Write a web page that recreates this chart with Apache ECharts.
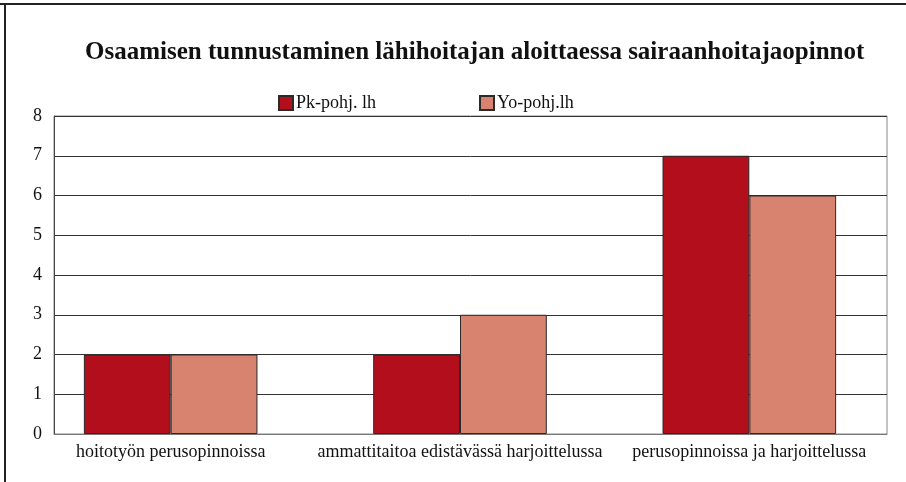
<!DOCTYPE html>
<html><head><meta charset="utf-8">
<script src="https://cdn.jsdelivr.net/npm/echarts@6/dist/echarts.min.js"></script>
<style>html,body{margin:0;padding:0;background:#fff}#c{width:906px;height:482px}</style>
</head><body><div id="c"></div>
<script>
const titleText = 'Osaamisen tunnustaminen lähihoitajan aloittaessa sairaanhoitajaopinnot';
const categories = ['hoitotyön perusopinnoissa', 'ammattitaitoa edistävässä harjoittelussa', 'perusopinnoissa ja harjoittelussa'];
const seriesNames = ['Pk-pohj. lh', 'Yo-pohj.lh'];
const pkValues = [2, 2, 7];
const yoValues = [2, 3, 6];
const FONT = '"Liberation Serif", "DejaVu Serif", serif';
const chart = echarts.init(document.getElementById('c'));
chart.setOption({
  animation: false,
  backgroundColor: '#fff',
  title: {text: titleText, left: 80, top: 35,
    textStyle: {fontFamily: FONT, fontSize: 25, fontWeight: 'bold', color: '#111'}},
  legend: {
    data: seriesNames, top: 89, left: 273, itemGap: 103, itemWidth: 14, itemHeight: 14,
    icon: 'rect',
    textStyle: {fontFamily: FONT, fontSize: 18, color: '#111', padding: [0,0,0,-2]}
  },
  grid: [
    {left: 54, right: 19, top: 116, bottom: 48, show: true, borderColor: '#888', borderWidth: 1},
    {left: 26, right: 12, top: 116, bottom: 48}
  ],
  xAxis: [
    {gridIndex: 0, type: 'category', data: categories,
      axisLine: {lineStyle: {color: '#777', width: 1}},
      axisTick: {show: false}, axisLabel: {show: false}},
    {gridIndex: 1, type: 'category', data: categories,
      axisLine: {show: false}, axisTick: {show: false},
      axisLabel: {interval: 0, fontFamily: FONT, fontSize: 18, color: '#111', margin: 9}}
  ],
  yAxis: [
    {gridIndex: 0, type: 'value', min: 0, max: 8, interval: 1,
      axisLine: {show: true, lineStyle: {color: '#444'}},
      axisTick: {show: false},
      axisLabel: {fontFamily: FONT, fontSize: 18, color: '#111', margin: 12},
      splitLine: {lineStyle: {color: '#333', width: 1}}},
    {gridIndex: 1, type: 'value', min: 0, max: 8, interval: 1, show: false}
  ],
  series: [
    {name: seriesNames[0], type: 'bar', xAxisIndex: 1, yAxisIndex: 1, data: pkValues, barGap: '0%', barCategoryGap: '40%',
      itemStyle: {color: '#B30E1B', borderColor: '#2a2a2a', borderWidth: 1}},
    {name: seriesNames[1], type: 'bar', xAxisIndex: 1, yAxisIndex: 1, data: yoValues, barGap: '0%', barCategoryGap: '40%',
      itemStyle: {color: '#D7836F', borderColor: '#2a2a2a', borderWidth: 1}}
  ],
  graphic: [
    {type: 'line', shape: {x1: 0, y1: 4, x2: 906, y2: 4}, style: {stroke: '#222', lineWidth: 2}},
    {type: 'line', shape: {x1: 5, y1: 4, x2: 5, y2: 482}, style: {stroke: '#222', lineWidth: 2}}
  ]
});
</script></body></html>
